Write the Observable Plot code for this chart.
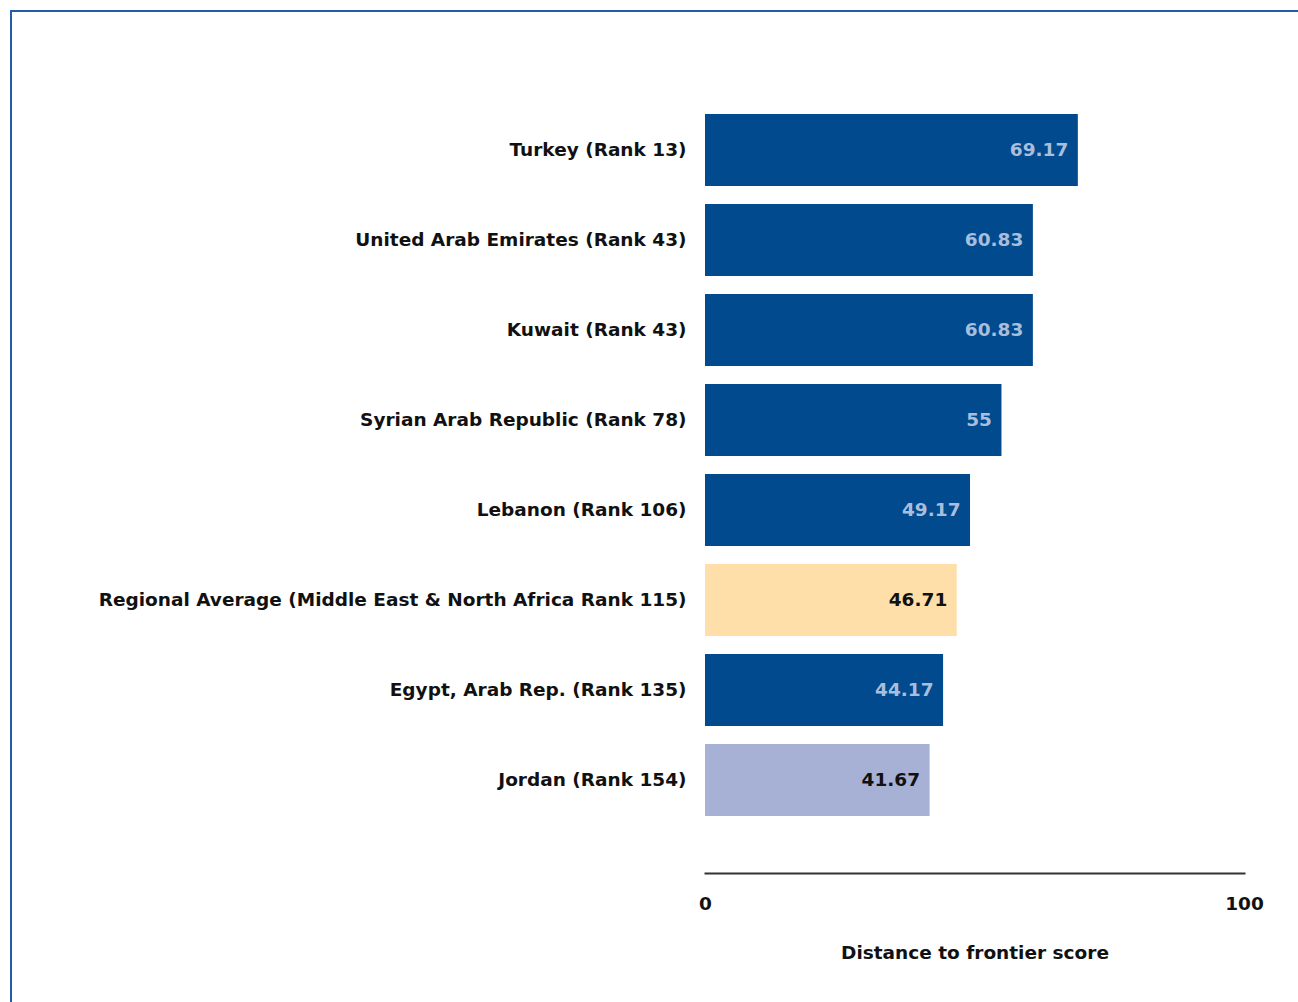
<!DOCTYPE html>
<html>
<head>
<meta charset="utf-8">
<script src="https://cdn.jsdelivr.net/npm/d3@7"></script>
<script src="https://cdn.jsdelivr.net/npm/@observablehq/plot@0.6"></script>
<style>
  html, body { margin: 0; padding: 0; background: #fff; overflow: hidden; }
  #wrap { position: relative; width: 1298px; height: 1002px; }
  #border { position: absolute; left: 10px; top: 10px; width: 1400px; height: 1100px;
            border-left: 2px solid #1f5ea8; border-top: 2px solid #1f5ea8; }
  #chart { position: absolute; left: 0; top: 0; }
</style>
</head>
<body>
<div id="wrap"><div id="border"></div><div id="chart"></div></div>
<script>
const labels = [
  "Turkey (Rank 13)",
  "United Arab Emirates (Rank 43)",
  "Kuwait (Rank 43)",
  "Syrian Arab Republic (Rank 78)",
  "Lebanon (Rank 106)",
  "Regional Average (Middle East & North Africa Rank 115)",
  "Egypt, Arab Rep. (Rank 135)",
  "Jordan (Rank 154)"
];
const scores = [69.17, 60.83, 60.83, 55, 49.17, 46.71, 44.17, 41.67];
const scoreText = ["69.17", "60.83", "60.83", "55", "49.17", "46.71", "44.17", "41.67"];
const groups = ["economy", "economy", "economy", "economy", "economy", "regional", "economy", "focus"];
const groupDomain = ["economy", "regional", "focus"];
const groupFill = ["#004a8d", "#fedfa9", "#a6b1d5"];
const groupText = ["#a9bedc", "#111111", "#111111"];
const xTicks = [0, 100];
const xLabel = "Distance to frontier score";

const data = labels.map((label, i) => ({label, score: scores[i], text: scoreText[i], group: groups[i]}));
const textColor = g => groupText[groupDomain.indexOf(g)];

const plot = Plot.plot({
  width: 1298,
  height: 1002,
  marginTop: 96,
  marginBottom: 168,
  marginLeft: 705,
  marginRight: 54,
  style: { fontFamily: "'DejaVu Sans', sans-serif", fontSize: "18.5px", color: "#111" },
  x: { domain: [0, 100], axis: null },
  y: { domain: labels, padding: 0.2, axis: null },
  color: { domain: groupDomain, range: groupFill },
  marks: [
    Plot.barX(data, { y: "label", x: "score", fill: "group" }),
    Plot.text(data, {
      y: "label", x: "score", text: "text", textAnchor: "end", dx: -10,
      fill: d => textColor(d.group), fontWeight: 700, fontSize: 18.5
    }),
    Plot.axisY({ tickSize: 0, tickPadding: 19, fontWeight: 700, fontSize: 18.5, fill: "#111", label: null }),
    Plot.frame({ anchor: "bottom", dy: 39, stroke: "#333", strokeWidth: 2 }),
    Plot.axisX({
      ticks: xTicks, tickSize: 0, tickPadding: 0, dy: 62, fontWeight: 700, fontSize: 18.5,
      fill: "#111", label: null
    }),
    Plot.text([xLabel], {
      text: d => d, frameAnchor: "bottom", dy: 119, lineAnchor: "middle",
      fontWeight: 700, fontSize: 18.5, fill: "#111"
    })
  ]
});
document.getElementById("chart").appendChild(plot);
</script>
</body>
</html>
